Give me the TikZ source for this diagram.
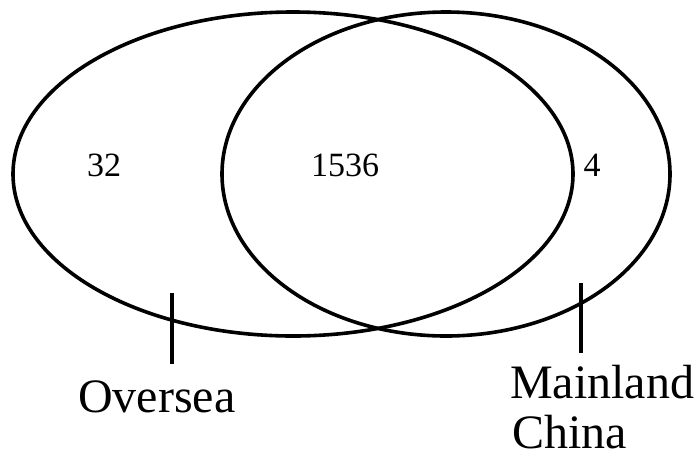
\documentclass[tikz,border=0pt]{standalone}
\usepackage{fontspec}
\setmainfont{Liberation Serif}
\begin{document}
\begin{tikzpicture}[x=1pt,y=-1pt,
  ring/.style={line width=3.6pt,black},
  tick/.style={line width=3.4pt,black},
  num/.style={font=\fontsize{34}{40}\selectfont,inner sep=0pt,anchor=base},
  setlabel/.style={font=\fontsize{48}{52}\selectfont,inner sep=0pt,anchor=base west,align=left}]
\useasboundingbox (0,0) rectangle (696,456);
\draw[ring] (293,174) ellipse [x radius=280, y radius=162];
\draw[ring] (446,174) ellipse [x radius=224, y radius=162];
\node[num] (n32) at (104,176) {32};
\node[num] (n1536) at (345,176) {1536};
\node[num] (n4) at (592,176) {4};
\coordinate (t1a) at (172,293);
\coordinate (t1b) at (172,364);
\coordinate (t2a) at (581,283);
\coordinate (t2b) at (581,353);
\draw[tick] (t1a) -- (t1b);
\draw[tick] (t2a) -- (t2b);
\node[setlabel] (over) at (78,412) {Oversea};
\node[setlabel] (main) at (510,398) {Mainland};
\node[setlabel] (china) at (512,448) {China};
\end{tikzpicture}
\end{document}
